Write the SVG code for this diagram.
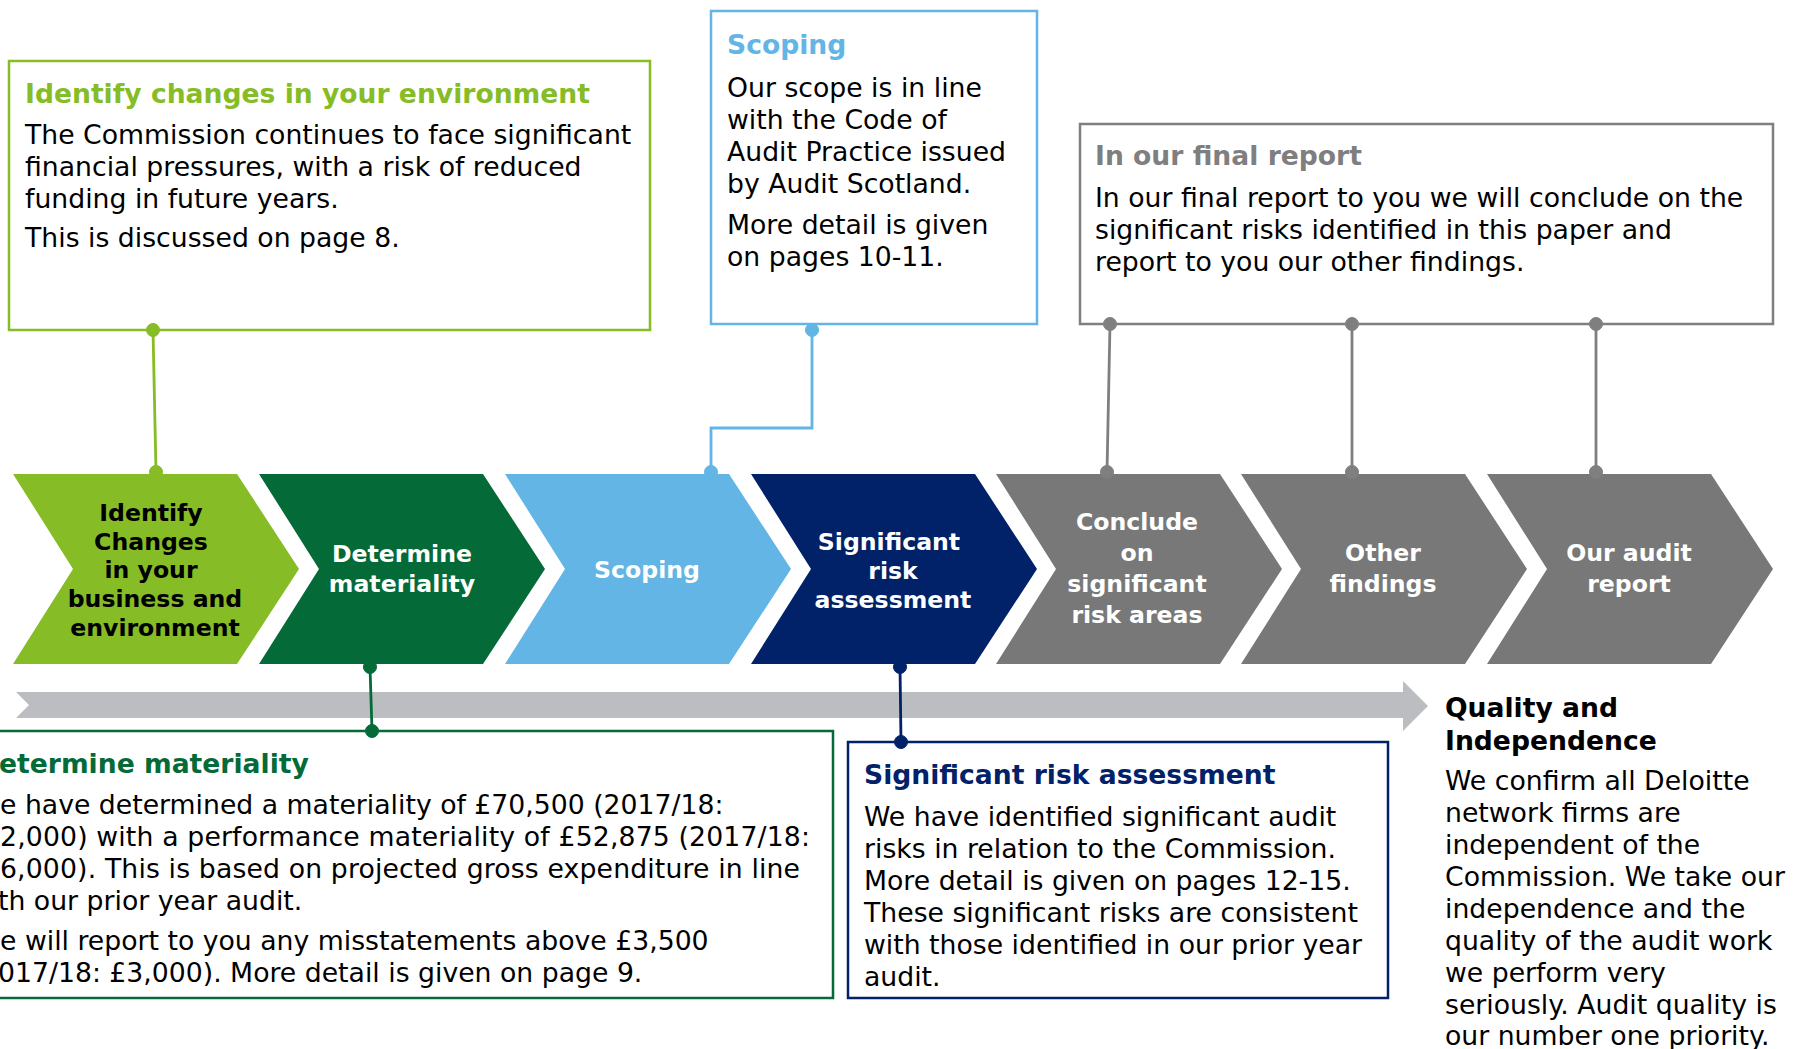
<svg xmlns="http://www.w3.org/2000/svg" width="1795" height="1049" viewBox="0 0 1795 1049">
<style>
  text { font-family: "DejaVu Sans", Verdana, "Liberation Sans", sans-serif; }
  .body { font-size: 26.7px; fill: #000000; }
  .ttl { font-size: 26.6px; font-weight: bold; }
  .chev { font-size: 23.6px; font-weight: bold; fill: #ffffff; text-anchor: middle; }
  .box { fill: #ffffff; stroke-width: 2.5; }
  .ln { fill: none; stroke-width: 2.8; }
</style>
<rect x="0" y="0" width="1795" height="1049" fill="#ffffff"/>

<!-- chevrons -->
<g id="chevron-identify">
  <polygon points="13,474 237,474 299,569 237,664 13,664 73,569" fill="#86BC25"/>
  <text class="chev" style="fill:#000000"><tspan x="151" y="521">Identify</tspan><tspan x="151" y="550">Changes</tspan><tspan x="151" y="578">in your</tspan><tspan x="155" y="607">business and</tspan><tspan x="155" y="636">environment</tspan></text>
</g>
<g id="chevron-materiality">
  <polygon points="259,474 483,474 545,569 483,664 259,664 319,569" fill="#046A38"/>
  <text class="chev"><tspan x="402" y="562">Determine</tspan><tspan x="402" y="592">materiality</tspan></text>
</g>
<g id="chevron-scoping">
  <polygon points="505,474 729,474 791,569 729,664 505,664 565,569" fill="#62B5E5"/>
  <text class="chev" x="647" y="578">Scoping</text>
</g>
<g id="chevron-risk">
  <polygon points="751,474 975,474 1037,569 975,664 751,664 811,569" fill="#012169"/>
  <text class="chev"><tspan x="889" y="550">Significant</tspan><tspan x="893" y="579">risk</tspan><tspan x="893" y="608">assessment</tspan></text>
</g>
<g id="chevron-conclude">
  <polygon points="996,474 1220,474 1282,569 1220,664 996,664 1056,569" fill="#787878"/>
  <text class="chev"><tspan x="1137" y="530">Conclude</tspan><tspan x="1137" y="561">on</tspan><tspan x="1137" y="592">significant</tspan><tspan x="1137" y="623">risk areas</tspan></text>
</g>
<g id="chevron-other">
  <polygon points="1241,474 1465,474 1527,569 1465,664 1241,664 1301,569" fill="#787878"/>
  <text class="chev"><tspan x="1383" y="561">Other</tspan><tspan x="1383" y="592">findings</tspan></text>
</g>
<g id="chevron-report">
  <polygon points="1487,474 1711,474 1773,569 1711,664 1487,664 1547,569" fill="#787878"/>
  <text class="chev"><tspan x="1629" y="561">Our audit</tspan><tspan x="1629" y="592">report</tspan></text>
</g>

<!-- timeline bar -->
<g id="timeline-bar">
  <polygon points="16,692 1403,692 1403,681 1428,706 1403,731 1403,718 16,718 29,705" fill="#BCBDC0"/>
</g>

<!-- boxes -->
<g id="box-environment">
  <rect class="box" x="9" y="61" width="641" height="269" stroke="#86BC25"/>
  <text class="ttl" x="25" y="103" fill="#86BC25">Identify changes in your environment</text>
  <text class="body"><tspan x="25" y="143.5">The Commission continues to face significant</tspan><tspan x="25" y="175.5">financial pressures, with a risk of reduced</tspan><tspan x="25" y="207.5">funding in future years.</tspan><tspan x="25" y="247">This is discussed on page 8.</tspan></text>
</g>
<g id="box-scoping">
  <rect class="box" x="711" y="11" width="326" height="313" stroke="#62B5E5"/>
  <text class="ttl" x="727" y="54" fill="#62B5E5">Scoping</text>
  <text class="body"><tspan x="727" y="96.5">Our scope is in line</tspan><tspan x="727" y="128.5">with the Code of</tspan><tspan x="727" y="160.5">Audit Practice issued</tspan><tspan x="727" y="192.5">by Audit Scotland.</tspan><tspan x="727" y="234">More detail is given</tspan><tspan x="727" y="266">on pages 10-11.</tspan></text>
</g>
<g id="box-final-report">
  <rect class="box" x="1080" y="124" width="693" height="200" stroke="#7F7F7F"/>
  <text class="ttl" x="1095" y="165" fill="#7F7F7F">In our final report</text>
  <text class="body"><tspan x="1095" y="207">In our final report to you we will conclude on the</tspan><tspan x="1095" y="239">significant risks identified in this paper and</tspan><tspan x="1095" y="271">report to you our other findings.</tspan></text>
</g>
<g id="box-materiality">
  <rect class="box" x="-20" y="731" width="853" height="267" stroke="#046A38"/>
  <text class="ttl" x="-1" y="773" fill="#046A38">etermine materiality</text>
  <text class="body"><tspan x="0" y="813.5">e have determined a materiality of £70,500 (2017/18:</tspan><tspan x="0" y="845.5" textLength="810" lengthAdjust="spacing">2,000) with a performance materiality of £52,875 (2017/18:</tspan><tspan x="0" y="877.5" textLength="800" lengthAdjust="spacing">6,000). This is based on projected gross expenditure in line</tspan><tspan x="-2" y="909.5">th our prior year audit.</tspan><tspan x="0" y="949.5">e will report to you any misstatements above £3,500</tspan><tspan x="-2" y="981.5">017/18: £3,000). More detail is given on page 9.</tspan></text>
</g>
<g id="box-risk">
  <rect class="box" x="848" y="742" width="540" height="256" stroke="#012169"/>
  <text class="ttl" x="864" y="784" fill="#012169">Significant risk assessment</text>
  <text class="body"><tspan x="864" y="826">We have identified significant audit</tspan><tspan x="864" y="858">risks in relation to the Commission.</tspan><tspan x="864" y="890">More detail is given on pages 12-15.</tspan><tspan x="864" y="922">These significant risks are consistent</tspan><tspan x="864" y="954">with those identified in our prior year</tspan><tspan x="864" y="986">audit.</tspan></text>
</g>
<g id="quality">
  <text class="ttl" fill="#000000"><tspan x="1445" y="717">Quality and</tspan><tspan x="1445" y="749.5">Independence</tspan></text>
  <text class="body"><tspan x="1445" y="789.5">We confirm all Deloitte</tspan><tspan x="1445" y="821.5">network firms are</tspan><tspan x="1445" y="853.5">independent of the</tspan><tspan x="1445" y="885.5">Commission. We take our</tspan><tspan x="1445" y="917.5">independence and the</tspan><tspan x="1445" y="949.5">quality of the audit work</tspan><tspan x="1445" y="981.5">we perform very</tspan><tspan x="1445" y="1013.5">seriously. Audit quality is</tspan><tspan x="1445" y="1045">our number one priority.</tspan></text>
</g>

<!-- connectors -->
<g id="connectors">
  <g stroke="#86BC25" fill="#86BC25">
    <path class="ln" d="M153,330 L156,472"/>
    <circle cx="153" cy="330" r="6.5"/>
    <circle cx="156" cy="472" r="6.5"/>
  </g>
  <g stroke="#62B5E5" fill="#62B5E5">
    <path class="ln" d="M812,330 V428 H711 V472"/>
    <circle cx="812" cy="330" r="6.5"/>
    <circle cx="711" cy="472" r="6.5"/>
  </g>
  <g stroke="#7F7F7F" fill="#7F7F7F">
    <path class="ln" d="M1110,324 L1107,472 M1352,324 V472 M1596,324 V472"/>
    <circle cx="1110" cy="324" r="6.5"/>
    <circle cx="1352" cy="324" r="6.5"/>
    <circle cx="1596" cy="324" r="6.5"/>
    <circle cx="1107" cy="472" r="6.5"/>
    <circle cx="1352" cy="472" r="6.5"/>
    <circle cx="1596" cy="472" r="6.5"/>
  </g>
  <g stroke="#046A38" fill="#046A38">
    <path class="ln" d="M370,667 L372,731"/>
    <circle cx="370" cy="667" r="6.5"/>
    <circle cx="372" cy="731" r="6.5"/>
  </g>
  <g stroke="#012169" fill="#012169">
    <path class="ln" d="M900,667 L901,742"/>
    <circle cx="900" cy="667" r="6.5"/>
    <circle cx="901" cy="742" r="6.5"/>
  </g>
</g>
</svg>
